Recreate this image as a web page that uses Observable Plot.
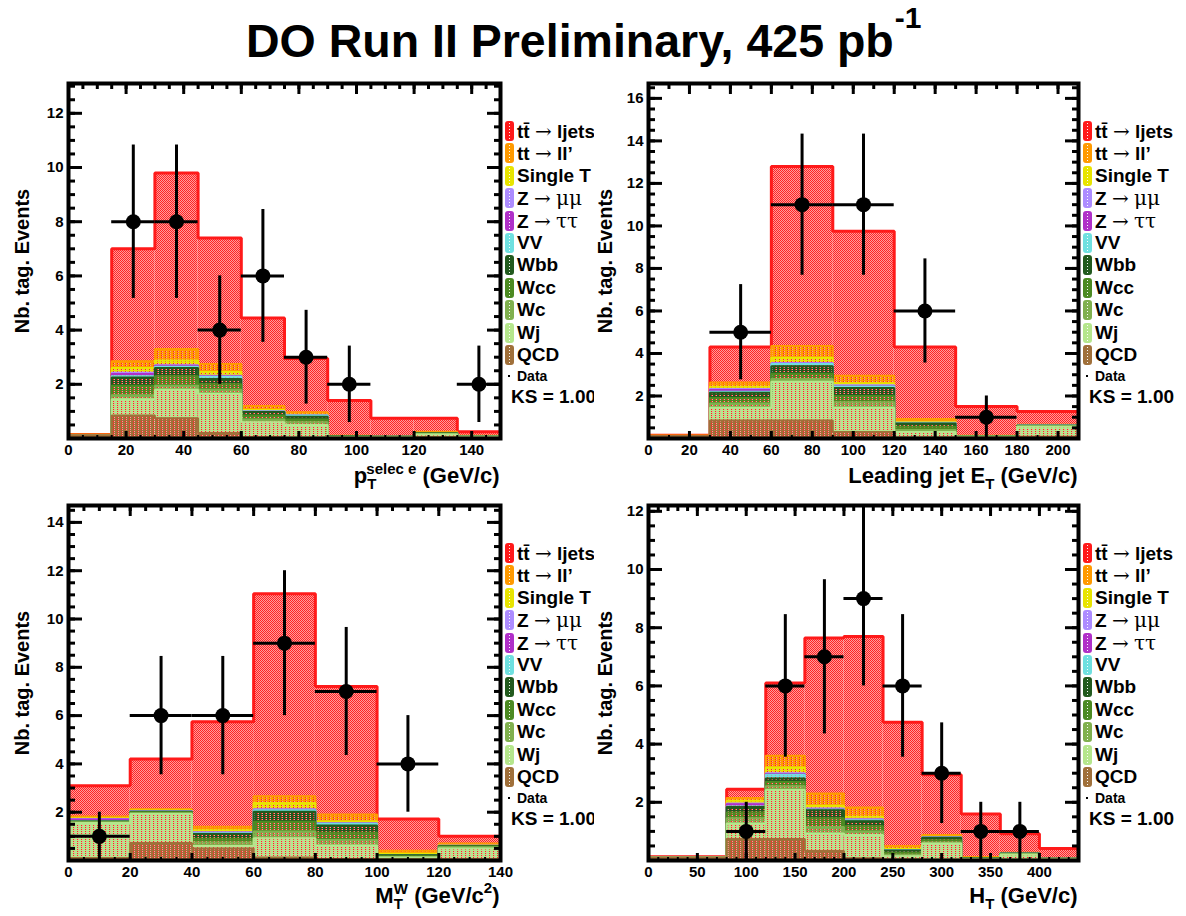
<!DOCTYPE html>
<html><head><meta charset="utf-8">
<script src="https://cdn.jsdelivr.net/npm/d3@7"></script>
<script src="https://cdn.jsdelivr.net/npm/@observablehq/plot@0.6"></script>
<style>
body{margin:0;background:#fff;}
#root{position:relative;width:1186px;height:916px;overflow:hidden;background:#fff;font-family:"Liberation Sans",Arial,Helvetica,sans-serif;}
#title{position:absolute;left:246px;top:18px;font-size:46.5px;font-weight:bold;line-height:46px;white-space:nowrap;color:#000;}
#title .sup{font-size:30px;position:relative;top:-29px;margin-left:1px;}
.panel{position:absolute;}
.legend{position:absolute;font-weight:bold;color:#000;}
.legend .row{position:absolute;left:0;height:22px;line-height:22px;white-space:nowrap;}
.legend .box{position:absolute;left:3px;top:1px;width:5px;height:16px;border:2px solid;border-radius:3px;
  background-image:repeating-linear-gradient(to bottom,rgba(255,255,255,0.95) 0 1px,transparent 1px 3px);
  background-size:1px 100%;background-position:center;background-repeat:no-repeat;}
.legend .txt{position:absolute;left:15px;top:0;font-size:19px;}
.legend .sym{font-family:"DejaVu Serif","Liberation Serif",serif;font-weight:normal;font-size:20px;}
</style>
</head><body>
<div id="root">
  <div id="title">DO Run II Preliminary, 425 pb<span class="sup">-1</span></div>
</div>
<svg width="0" height="0" style="position:absolute"><defs id="pats"></defs></svg>
<script>
// ---------- layers (stack order bottom -> top) ----------
const layerNames  = ["QCD","Wj","Wc","Wcc","Wbb","VV","Z → ττ","Z → μμ","Single T","tt → ll’","tt̄ → ljets"];
const layerColors = ["#a0703a","#b5e68c","#80b04e","#4c8a22","#225a1e","#6fe0e0","#b030c8","#ad8cff","#e8e400","#ff9a00","#ff1a1a"];

// ---------- panel 1 : electron pT ----------
const ptEdges = [0,15,30,45,60,75,90,105,120,135,150];
const ptTops = [ // cumulative stack tops per bin, layers bottom -> top
  [0.12,0.85,0.75,0.20,0.05,0.03,0.03,0.03,0.05,0.03],
  [0.12,1.45,1.80,1.65,0.60,0.50,0.05,0.05,0.15,0.06],
  [0.12,1.60,1.95,1.80,0.70,0.60,0.06,0.05,0.17,0.06],
  [0.12,1.95,2.30,2.00,0.85,0.70,0.07,0.06,0.18,0.07],
  [0.13,2.25,2.60,2.20,0.98,0.80,0.08,0.06,0.19,0.07],
  [0.13,2.30,2.65,2.28,1.00,0.85,0.08,0.06,0.19,0.07],
  [0.13,2.38,2.68,2.30,1.00,0.85,0.08,0.06,0.19,0.07],
  [0.13,2.43,2.70,2.32,1.00,0.85,0.08,0.06,0.19,0.07],
  [0.14,2.60,2.88,2.45,1.05,0.88,0.09,0.07,0.20,0.08],
  [0.14,2.85,3.30,2.75,1.20,0.97,0.10,0.08,0.25,0.10],
  [0.15,7.00,9.80,7.40,4.45,2.95,1.40,0.75,0.75,0.25]
];
const ptData = [0,8,8,4,6,3,2,0,0,2];
const ptErr  = [0,2.83,2.83,2,2.45,1.73,1.41,0,0,1.41];
const ptXTicks = [0,20,40,60,80,100,120,140];
const ptYTicks = [2,4,6,8,10,12];

// ---------- panel 2 : leading jet ET ----------
const etEdges = [0,30,60,90,120,150,180,210];
const etTops = [
  [0.12,0.85,0.85,0.30,0.05,0.05,0.08],
  [0.12,1.45,2.67,1.45,0.30,0.08,0.55],
  [0.12,1.65,2.80,1.70,0.40,0.09,0.58],
  [0.12,1.90,3.05,2.00,0.55,0.10,0.60],
  [0.12,2.15,3.40,2.38,0.70,0.10,0.60],
  [0.12,2.20,3.50,2.45,0.72,0.10,0.61],
  [0.12,2.28,3.52,2.47,0.73,0.10,0.61],
  [0.12,2.33,3.55,2.50,0.74,0.10,0.61],
  [0.13,2.43,3.80,2.60,0.78,0.11,0.62],
  [0.13,2.63,4.35,2.95,0.92,0.13,0.65],
  [0.15,4.30,12.80,9.75,4.30,1.50,1.27]
];
const etData = [0,5,11,11,6,1,0];
const etErr  = [0,2.24,3.32,3.32,2.45,1,0];
const etXTicks = [0,20,40,60,80,100,120,140,160,180,200];
const etYTicks = [2,4,6,8,10,12,14,16];

// ---------- panel 3 : MT(W) ----------
const mtEdges = [0,20,40,60,80,100,120,140];
const mtTops = [
  [0.10,0.72,0.50,0.12,0.06,0.05,0.05],
  [1.55,1.93,0.60,0.92,0.62,0.12,0.50],
  [1.58,1.97,0.75,1.20,0.85,0.15,0.55],
  [1.60,2.00,0.90,1.60,1.15,0.18,0.58],
  [1.62,2.02,1.10,2.02,1.45,0.22,0.60],
  [1.63,2.03,1.13,2.08,1.52,0.22,0.60],
  [1.70,2.04,1.15,2.10,1.53,0.23,0.61],
  [1.72,2.05,1.17,2.12,1.54,0.23,0.61],
  [1.75,2.07,1.25,2.38,1.62,0.28,0.63],
  [1.82,2.12,1.40,2.66,1.90,0.40,0.70],
  [3.10,4.20,5.75,11.05,7.20,1.72,1.00]
];
const mtData = [1,6,6,9,7,4,0];
const mtErr  = [1,2.45,2.45,3,2.65,2,0];
const mtXTicks = [0,20,40,60,80,100,120,140];
const mtYTicks = [2,4,6,8,10,12,14];

// ---------- panel 4 : HT ----------
const htEdges = [0,40,80,120,160,200,240,280,320,360,400,440];
const htTops = [
  [0.10,0.10,0.74,0.74,0.33,0.08,0.04,0.03,0.03,0.03,0.03],
  [0.10,0.10,1.27,2.42,0.93,0.88,0.15,0.58,0.05,0.20,0.05],
  [0.10,0.10,1.45,2.55,1.15,1.00,0.20,0.62,0.06,0.22,0.05],
  [0.10,0.10,1.65,2.70,1.45,1.18,0.27,0.70,0.07,0.23,0.06],
  [0.10,0.10,1.84,2.82,1.73,1.35,0.34,0.78,0.08,0.24,0.06],
  [0.10,0.10,1.86,2.95,1.75,1.38,0.35,0.79,0.08,0.24,0.06],
  [0.10,0.10,1.93,2.97,1.77,1.40,0.35,0.79,0.08,0.24,0.06],
  [0.10,0.10,1.96,3.00,1.79,1.42,0.36,0.80,0.08,0.24,0.06],
  [0.10,0.10,2.05,3.20,1.88,1.50,0.40,0.82,0.09,0.25,0.07],
  [0.11,0.11,2.15,3.60,2.30,1.82,0.50,0.88,0.12,0.27,0.08],
  [0.13,0.13,2.45,6.10,7.65,7.70,4.75,2.95,1.60,0.92,0.41]
];
const htData = [0,0,1,6,7,9,6,3,1,1,0];
const htErr  = [0,0,1,2.45,2.65,3,2.45,1.73,1,1,0];
const htXTicks = [0,50,100,150,200,250,300,350,400];
const htYTicks = [2,4,6,8,10,12];

const yTitle = "Nb. tag. Events";
const ksText = "KS = 1.00";

// ---------- patterns ----------
const NS = "http://www.w3.org/2000/svg";
const defs = document.getElementById("pats");
layerColors.forEach((c, k) => {
  const top = k === layerColors.length - 1;
  const p = document.createElementNS(NS, "pattern");
  p.setAttribute("id", "pat" + k);
  p.setAttribute("patternUnits", "userSpaceOnUse");
  p.setAttribute("width", top ? 2 : 4);
  p.setAttribute("height", 2);
  const px = top
    ? [[0,0,2,2,"#ff9c9c"],[0,0,1,1,"#ff2424"],[1,1,1,1,"#ff2424"]]
    : [[0,0,4,1,c],[0,1,1,1,c],[3,1,1,1,c]];
  for (const [x,y,w,h,f] of px) {
    const r = document.createElementNS(NS, "rect");
    r.setAttribute("x",x); r.setAttribute("y",y); r.setAttribute("width",w); r.setAttribute("height",h);
    r.setAttribute("fill",f);
    p.appendChild(r);
  }
  defs.appendChild(p);
});

const root = document.getElementById("root");
const XT = "__xtitle__";

function makePanel(cfg) {
  const {edges, tops, data, err, xTicks, xMinor, yTicks, yTop, left, top, width, height, ml, mr, mt, mb, titleDy, yDx, xtitle} = cfg;
  const nb = edges.length - 1;
  const marks = [];
  for (let k = tops.length - 1; k >= 0; k--) {
    const bins = d3.range(nb).map(i => ({x1: edges[i], x2: edges[i + 1], y: tops[k][i]}));
    marks.push(Plot.rectY(bins, {x1: "x1", x2: "x2", y1: 0, y2: "y", fill: `url(#pat${k})`}));
    const outline = [{x: edges[0], y: 0}, ...bins.flatMap(b => [{x: b.x1, y: b.y}, {x: b.x2, y: b.y}]), {x: edges[nb], y: 0}];
    marks.push(Plot.line(outline, {x: "x", y: "y", stroke: layerColors[k], strokeWidth: k === tops.length - 1 ? 3 : 2, strokeLinejoin: "miter"}));
  }
  const pts = data.map((n, i) => ({n, e: err[i], x1: edges[i], x2: edges[i + 1], xm: (edges[i] + edges[i + 1]) / 2})).filter(d => d.n > 0);
  marks.push(
    Plot.ruleX(pts, {x: "xm", y1: d => d.n - d.e, y2: d => d.n + d.e, stroke: "black", strokeWidth: 3}),
    Plot.ruleY(pts, {y: "n", x1: "x1", x2: "x2", stroke: "black", strokeWidth: 3}),
    Plot.dot(pts, {x: "xm", y: "n", r: 7.5, fill: "black"})
  );
  const yMinor = d3.range(0, yTop, 0.5);
  const xMin = d3.range(edges[0], edges[nb] + 0.001, xMinor);
  marks.push(
    Plot.axisY(yMinor, {anchor: "left", tickSize: -7, fill: "none", label: null, strokeWidth: 3}),
    Plot.axisY(yMinor, {anchor: "right", tickSize: -7, fill: "none", label: null, strokeWidth: 3}),
    Plot.axisY(yTicks, {anchor: "right", tickSize: -14, fill: "none", label: null, strokeWidth: 3}),
    Plot.axisY(yTicks, {anchor: "left", tickSize: -14, tickPadding: 19, tickFormat: d => d, label: null, strokeWidth: 3}),
    Plot.axisX(xMin, {anchor: "top", tickSize: -5, fill: "none", label: null, strokeWidth: 3}),
    Plot.axisX(xTicks, {anchor: "top", tickSize: -10, fill: "none", label: null, strokeWidth: 3}),
    Plot.axisX(xMin, {anchor: "bottom", tickSize: -3, fill: "none", label: null, strokeWidth: 2}),
    Plot.axisX(xTicks, {anchor: "bottom", tickSize: -7, tickPadding: 12.5, tickFormat: d => d, label: null, strokeWidth: 3}),
    Plot.frame({stroke: "black", strokeWidth: 4}),
    Plot.text([yTitle], {text: d => d, frameAnchor: "left", dx: yDx, rotate: -90, lineAnchor: "middle", textAnchor: "middle", fontSize: 20}),
    Plot.text([XT], {text: d => d, frameAnchor: "bottom-right", dx: -1, dy: titleDy, textAnchor: "end", lineAnchor: "bottom", fontSize: 22})
  );
  const svg = Plot.plot({
    width, height, marginLeft: ml, marginRight: mr, marginTop: mt, marginBottom: mb,
    x: {domain: [edges[0], edges[nb]]},
    y: {domain: [0, yTop]},
    style: {fontFamily: "'Liberation Sans', Arial, Helvetica, sans-serif", fontSize: "15px", fontWeight: "bold", color: "black", background: "white", overflow: "hidden"},
    marks
  });
  // rich x-axis title (sub / superscripts)
  const t = Array.from(svg.querySelectorAll("text")).find(e => e.textContent === XT);
  if (t) {
    t.textContent = "";
    let shift = 0;
    for (const p of xtitle) {
      const ts = document.createElementNS(NS, "tspan");
      ts.textContent = p.t;
      const target = p.sub ? 6 : p.sup ? (p.hi ?? -9) : 0;
      ts.setAttribute("dy", target - shift); shift = target;
      if (p.sub || p.sup) ts.setAttribute("font-size", 15);
      if (p.back) ts.setAttribute("dx", -p.back);
      t.appendChild(ts);
    }
  }
  const holder = document.createElement("div");
  holder.className = "panel";
  holder.style.left = left + "px"; holder.style.top = top + "px";
  holder.appendChild(svg);
  root.appendChild(holder);

  // legend (to the right of the frame)
  const frameRight = left + width - mr, frameTop = top + mt;
  const lg = document.createElement("div");
  lg.className = "legend";
  lg.style.left = (frameRight + 2) + "px";
  lg.style.top = frameTop + "px";
  const fmt = s => s.replace(/([→μτ]+)/g, '<span class="sym">$1</span>');
  const order = d3.range(layerNames.length).reverse();
  order.forEach((k, i) => {
    const row = document.createElement("div");
    row.className = "row";
    row.style.top = (48 + 22.4 * i - 11) + "px";
    row.innerHTML = `<span class="box" style="border-color:${layerColors[k]};background-color:${layerColors[k]}"></span><span class="txt">${fmt(layerNames[k])}</span>`;
    lg.appendChild(row);
  });
  const dataRow = document.createElement("div");
  dataRow.className = "row";
  dataRow.style.top = (293 - 11) + "px";
  dataRow.innerHTML = `<span style="position:absolute;left:6px;top:10px;width:2px;height:2px;background:#000"></span><span class="txt" style="font-size:14px">Data</span>`;
  lg.appendChild(dataRow);
  const ksRow = document.createElement("div");
  ksRow.className = "row";
  ksRow.style.top = (314 - 11) + "px";
  ksRow.innerHTML = `<span class="txt" style="left:9px">${ksText}</span>`;
  lg.appendChild(ksRow);
  root.appendChild(lg);
}

const topRow = {top: 70, height: 420, mt: 13, mb: 52, titleDy: 44};
const botRow = {top: 490, height: 426, mt: 15, mb: 56, titleDy: 42};
const leftCol = {left: 0, width: 594, ml: 68, mr: 94, yDx: -46};
const rightCol = {left: 594, width: 592, ml: 54, mr: 108, yDx: -43};

makePanel({...topRow, ...leftCol, edges: ptEdges, tops: ptTops, data: ptData, err: ptErr, xTicks: ptXTicks, xMinor: 5, yTicks: ptYTicks, yTop: 13.1,
  xtitle: [{t: "p"}, {t: "T", sub: true}, {t: "selec e", sup: true, back: 9}, {t: " (GeV/c)"}]});
makePanel({...topRow, ...rightCol, edges: etEdges, tops: etTops, data: etData, err: etErr, xTicks: etXTicks, xMinor: 10, yTicks: etYTicks, yTop: 16.7,
  xtitle: [{t: "Leading jet E"}, {t: "T", sub: true}, {t: " (GeV/c)"}]});
makePanel({...botRow, ...leftCol, edges: mtEdges, tops: mtTops, data: mtData, err: mtErr, xTicks: mtXTicks, xMinor: 5, yTicks: mtYTicks, yTop: 14.7,
  xtitle: [{t: "M"}, {t: "T", sub: true}, {t: "W", sup: true, back: 9}, {t: " (GeV/c"}, {t: "2", sup: true, hi: -10}, {t: ")"}]});
makePanel({...botRow, ...rightCol, edges: htEdges, tops: htTops, data: htData, err: htErr, xTicks: htXTicks, xMinor: 10, yTicks: htYTicks, yTop: 12.2,
  xtitle: [{t: "H"}, {t: "T", sub: true}, {t: " (GeV/c)"}]});
</script>
</body></html>
